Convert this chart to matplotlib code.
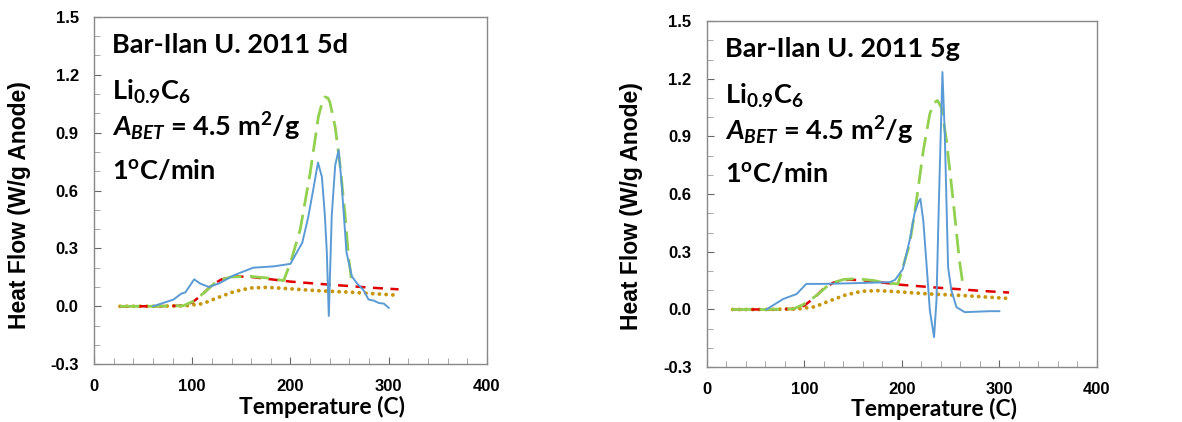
import numpy as np
import matplotlib
matplotlib.use('Agg')
import matplotlib.pyplot as plt

plt.rcParams['font.family'] = ['Liberation Sans', 'DejaVu Sans']
plt.rcParams['mathtext.fontset'] = 'custom'
plt.rcParams['mathtext.rm'] = 'Lato:bold'
plt.rcParams['mathtext.it'] = 'Lato:italic:bold'
plt.rcParams['mathtext.bf'] = 'Lato:bold'

# measured curve, panel 5d
t_5d = [60, 81, 89, 93, 102, 108, 117, 128, 142, 162, 183, 200, 212, 218, 223,
        228, 232, 235, 237, 239, 242, 245.5, 249, 252, 257, 262.5, 267.5, 274,
        279.5, 284.5, 290, 295, 300]
q_5d = [0.0, 0.035, 0.066, 0.072, 0.14, 0.118, 0.10, 0.12, 0.16, 0.20, 0.207,
        0.22, 0.33, 0.46, 0.60, 0.745, 0.67, 0.47, 0.28, -0.05, 0.47, 0.73,
        0.81, 0.64, 0.28, 0.155, 0.12, 0.086, 0.035, 0.03, 0.017, 0.014, -0.008]

# measured curve, panel 5g
t_5g = [61, 78.5, 92, 102, 119.5, 153.6, 187.7, 193, 201, 208, 213, 217, 219,
        222, 225, 228.7, 233, 235.5, 238, 241.6, 244, 247.4, 250.8, 256, 264.5,
        290, 300]
q_5g = [0.0, 0.055, 0.08, 0.133, 0.133, 0.137, 0.142, 0.154, 0.21, 0.36, 0.50,
        0.56, 0.575, 0.46, 0.255, -0.005, -0.144, 0.047, 0.567, 1.235, 0.914,
        0.22, 0.099, 0.012, -0.014, -0.009, -0.009]

# model total (green dashed)
tm_5d = [26.5, 60, 91, 101, 111, 125, 139, 159, 176, 193, 200, 210, 220, 228.5,
         232, 235, 238, 240, 245.5, 250.6, 255.7, 259, 262.5]
qm_5d = [0.0, 0.0, 0.003, 0.026, 0.066, 0.13, 0.152, 0.155, 0.147, 0.133, 0.225,
         0.40, 0.69, 0.985, 1.05, 1.085, 1.08, 1.06, 0.93, 0.725, 0.466, 0.26, 0.12]
tm_5g = [25.6, 60, 88.7, 99, 112.6, 126, 140, 153.6, 170.6, 184, 196, 201, 208,
         215, 222, 228.7, 233, 236.5, 240.6, 245.7, 252.6, 259, 263]
qm_5g = [0.0, 0.0, 0.003, 0.026, 0.073, 0.133, 0.156, 0.16, 0.151, 0.137, 0.133,
         0.22, 0.34, 0.567, 0.827, 1.018, 1.075, 1.087, 1.05, 0.88, 0.567, 0.255, 0.116]

# SEI components (red dashed, orange dotted)
ts = [26.5, 60, 90, 100, 110, 120, 130, 145, 160, 180, 200, 220, 240, 260, 280, 310]
q_red = [0.0, 0.0, 0.003, 0.02, 0.06, 0.11, 0.14, 0.155, 0.152, 0.14, 0.128,
         0.12, 0.112, 0.105, 0.097, 0.088]
to = [26.5, 60, 94, 111, 125, 142, 159, 176, 193, 227, 261, 310]
q_orange = [0.0, 0.0, 0.003, 0.014, 0.043, 0.075, 0.095, 0.098, 0.093, 0.081,
            0.073, 0.057]

panels = [
    ('Bar-Ilan U. 2011 5d', t_5d, q_5d, tm_5d, qm_5d, [0.0795, 0.137, 0.3325, 0.823],
     (-0.16, 0.458), (0.58, -0.092)),
    ('Bar-Ilan U. 2011 5g', t_5g, q_5g, tm_5g, qm_5g, [0.598, 0.130, 0.330, 0.820],
     (-0.164, 0.465), (0.582, -0.09)),
]

fig = plt.figure(figsize=(11.82, 4.22), dpi=100)

for title, t, q, tm, qm, rect, ylab_xy, xlab_xy in panels:
    ax = fig.add_axes(rect)
    ax.plot(to, q_orange, color='#C8960C', lw=2.8, ls=(0, (0.01, 1.72)),
            dash_capstyle='round')
    ax.plot(ts, q_red, color='#E00000', lw=1.8, ls=(0, (4, 3)))
    ax.plot(tm, qm, color='#92D050', lw=2.0, ls=(0, (7, 3)))
    ax.plot(t, q, color='#5B9BD5', lw=1.4)

    ax.set_xlim(0, 400)
    ax.set_ylim(-0.3, 1.5)
    ax.set_xticks([0, 100, 200, 300, 400])
    ax.set_xticks(np.arange(0, 401, 20), minor=True)
    ax.set_yticks([-0.3, 0.0, 0.3, 0.6, 0.9, 1.2, 1.5])
    ax.set_yticks(np.arange(-0.3, 1.51, 0.1), minor=True)
    ax.set_yticklabels(['%.1f' % v for v in [-0.3, 0.0, 0.3, 0.6, 0.9, 1.2, 1.5]])
    ax.tick_params(which='both', direction='in', color='#666666')
    ax.tick_params(which='major', length=5, labelsize=12, pad=11)
    ax.tick_params(which='minor', length=4, color='#999999')
    for lab in ax.get_xticklabels() + ax.get_yticklabels():
        lab.set_fontweight('bold')
    for s in ax.spines.values():
        s.set_color('#888888')
        s.set_linewidth(1.0)

    ax.set_xlabel('Temperature (C)', fontsize=16.5, fontweight='bold',
                  family='Lato')
    ax.set_ylabel('Heat Flow (W/g Anode)', fontsize=16.5, fontweight='bold')
    ax.yaxis.set_label_coords(*ylab_xy)
    ax.xaxis.set_label_coords(*xlab_xy)

    kw = dict(transform=ax.transAxes, fontsize=19.5, fontweight='bold',
              family='Lato', va='center', ha='left')
    ax.text(0.046, 0.919, title, **kw)
    ax.text(0.046, 0.784, r'Li$_{\mathrm{0.9}}$C$_{\mathrm{6}}$', **kw)
    ax.text(0.046, 0.683, r'$\mathit{A_{BET}}$ = 4.5 m$^{\mathrm{2}}$/g', **kw)
    ax.text(0.046, 0.559, r'1$^{\mathrm{o}}$C/min', **kw)

fig.savefig('out.png', dpi=100)
